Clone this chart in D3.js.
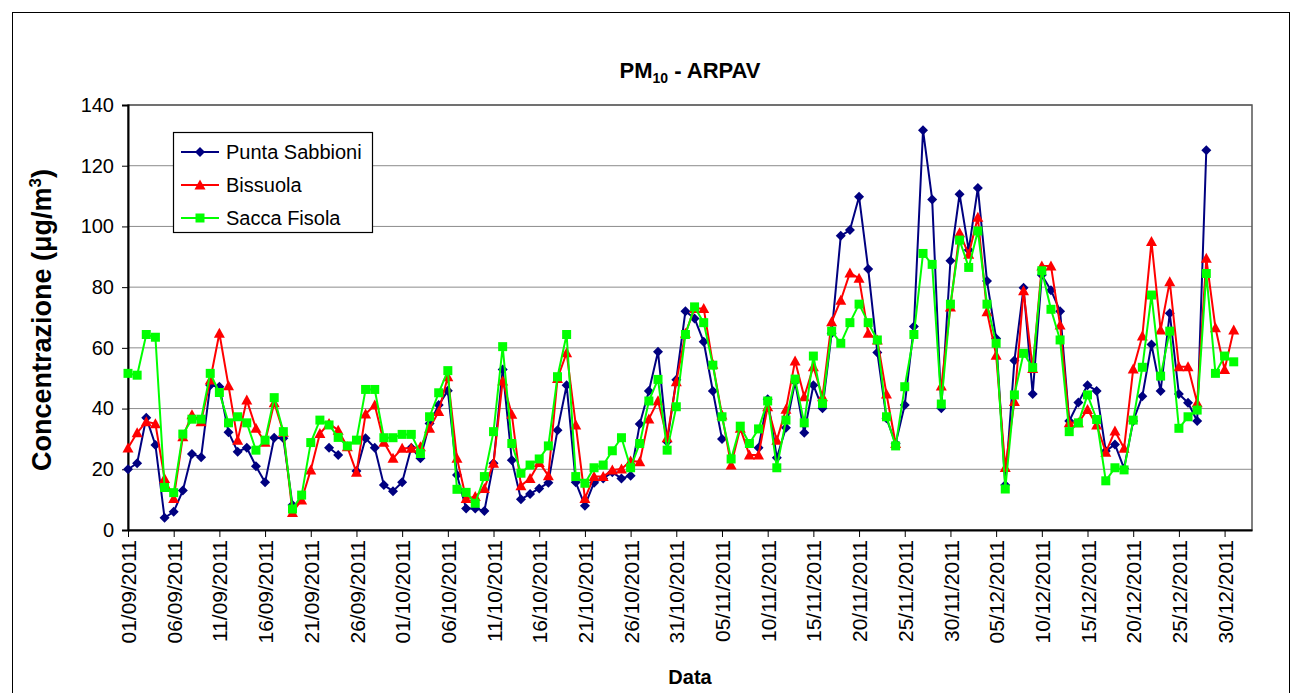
<!DOCTYPE html>
<html lang="it">
<head>
    <meta charset="utf-8">
    <script src="https://cdn.jsdelivr.net/npm/d3@7"></script>
    <style>
        body { margin: 0; background: #fff; }
        svg { font-family: Arial, "Liberation Sans", sans-serif; }
    </style>
</head>
<body>
    <div id="chart"></div>
    <script>
        // daily values, 01/09/2011 -> 31/12/2011 (null = no data)
        var punta = [20, 22, 37, 28, 4, 6, 13, 25, 24, 47.7,
            47.2, 32.2, 25.8, 27.1, 21, 15.7, 30.4, 30.2, 8.2, null,
            null, null, 27.1, 24.7, null, 19.4, 30.2, 27.1, 14.8, 12.8,
            15.7, 27.1, 23.6, 35.1, 41.2, 45.9, 18.1, 7.1, 7.1, 6.3,
            22, 52.9, 23, 10.1, 11.9, 13.7, 15.6, 32.9, 47.7, 15.7,
            8, 15.6, 17, 19, 17, 17.9, 34.9, 45.8, 58.7, 29.1,
            49.5, 72.1, 69.7, 62, 45.8, 30, null, null, null, 27.1,
            43.1, 23.8, 33.7, 48.8, 32, 47.7, 40.1, 64.8, 96.9, 98.8,
            109.8, 86, 58.5, 36.8, 28.5, 41.2, 67, 131.7, 108.9, 40.1,
            88.7, 110.6, 92.2, 112.7, 82, 63.1, 14.8, 55.8, 79.8, 44.8,
            84, 79, 72.1, 35.9, 42, 47.7, 45.8, 26, 28.2, 20.3,
            35.9, 44.1, 61.1, 45.8, 71.4, 44.8, 41.9, 35.9, 125.1, null,
            null, null];

        var bissuola = [27, 32, 35.7, 35, 17, 10.4, 30.7, 38, 35.7, 49.4,
            64.8, 47.5, 29.6, 42.8, 33.5, 28.9, 41.9, 32.2, 5.8, 9.9,
            19.8, 31.8, 35.1, 32.9, 27.4, 19, 38.2, 41.2, 28.9, 23.6,
            26.9, 26.9, 27.4, 33.5, 39, 50.5, 23.6, 10.4, 11, 13.7,
            22, 49.1, 38.1, 14.6, 17, 22.2, 17.9, 49.9, 58.4, 34.6,
            10.4, 17.6, 17.6, 19.8, 20.1, 22.7, 22.5, 36.6, 42.6, 30.4,
            48.8, 64.8, 73, 73, 54.6, 37.9, 21.4, 33.5, 24.7, 24.7,
            40.6, 29.6, 39.8, 55.7, 43.9, 53.8, 43.9, 68.6, 75.7, 84.7,
            82.9, 64.8, 62.6, 44.8, 28.5, null, null, null, null, 47.4,
            73.5, 97.9, 90.8, 103, 71.9, 57.6, 20.6, 42.3, 78.8, 53.2,
            87, 87, 67.5, 35.3, 35.3, 39.7, 34.6, 25.6, 32.6, 26.9,
            53, 63.9, 95, 65.9, 81.8, 53.8, 53.8, 41.9, 89.5, 66.6,
            52.9, 65.9];

        var sacca = [51.6, 51, 64.4, 63.5, 14, 12.3, 31.6, 36.5, 36.5, 51.6,
            45.3, 35.3, 37.3, 35.3, 26.3, 29.6, 43.6, 32.4, 6.9, 11.5,
            28.8, 36.2, 34.6, 30.5, 27.7, 29.6, 46.3, 46.3, 30.4, 30.4,
            31.5, 31.5, 25.2, 37.3, 45.2, 52.5, 13.4, 12.4, 8.8, 17.6,
            32.4, 60.4, 28.5, 18.7, 21.4, 23.4, 27.7, 50.5, 64.4, 17.6,
            15.4, 20.5, 21.4, 26.1, 30.4, 20.5, 28.5, 42.5, 49.6, 26.3,
            40.6, 64.4, 73.5, 68.3, 54.3, 37.3, 23.4, 34.2, 28.5, 33.3,
            42.5, 20.5, 36.2, 49.7, 35.3, 57.3, 41.7, 65.5, 61.5, 68.3,
            74.4, 68.3, 62.6, 37.3, 27.7, 47.2, 64.4, 91.1, 87.5, 41.5,
            74.4, 95.5, 86.5, 98.5, 74.4, 61.5, 13.5, 44.5, 58.2, 53.5,
            85.4, 72.7, 62.6, 32.4, 35.3, 44.5, 36.4, 16.2, 20.5, 19.8,
            36.2, 53.6, 77.4, 50.7, 65.5, 33.5, 37.3, 39.5, 84.5, 51.6,
            57.3, 55.4];

        var seriesNames = ["Punta Sabbioni", "Bissuola", "Sacca Fisola"];
        var seriesColors = ["#000080", "#ff0000", "#00ff00"];
        var seriesMarkers = ["diamond", "triangle", "square"];

        var tickLabels = ["01/09/2011", "06/09/2011", "11/09/2011", "16/09/2011", "21/09/2011",
            "26/09/2011", "01/10/2011", "06/10/2011", "11/10/2011", "16/10/2011", "21/10/2011",
            "26/10/2011", "31/10/2011", "05/11/2011", "10/11/2011", "15/11/2011", "20/11/2011",
            "25/11/2011", "30/11/2011", "05/12/2011", "10/12/2011", "15/12/2011", "20/12/2011",
            "25/12/2011", "30/12/2011"];
        var yTicks = [0, 20, 40, 60, 80, 100, 120, 140];

        var width = 1300, height = 693;
        var margin = { top: 105, right: 48, bottom: 163, left: 128 };

        var parse = d3.timeParse("%d/%m/%Y");
        var start = parse("01/09/2011");
        var dates = punta.map((d, i) => d3.timeDay.offset(start, i));

        var series = seriesNames.map((name, k) => ({
            name: name,
            color: seriesColors[k],
            marker: seriesMarkers[k],
            values: [punta, bissuola, sacca][k]
        }));

        var x = d3.scaleTime()
            .domain([start, parse("02/01/2012")])
            .range([margin.left, width - margin.right]);

        var y = d3.scaleLinear()
            .domain([0, 140])
            .range([height - margin.bottom, margin.top]);

        var svg = d3.select("#chart").append("svg")
            .attr("width", width)
            .attr("height", height);

        // outer chart frame
        svg.append("rect")
            .attr("x", 12.5).attr("y", 12.5)
            .attr("width", 1277).attr("height", 700)
            .attr("fill", "#fff").attr("stroke", "#000").attr("stroke-width", 1);

        // gridlines
        svg.append("g")
            .selectAll("line")
            .data(yTicks.slice(1))
            .enter().append("line")
            .attr("x1", x.range()[0]).attr("x2", x.range()[1])
            .attr("y1", d => y(d)).attr("y2", d => y(d))
            .attr("stroke", "#8c8c8c").attr("stroke-width", 1);

        // plot frame (top / right)
        svg.append("rect")
            .attr("x", x.range()[0]).attr("y", y(140))
            .attr("width", x.range()[1] - x.range()[0])
            .attr("height", y(0) - y(140))
            .attr("fill", "none").attr("stroke", "#555").attr("stroke-width", 1.5);

        // y axis
        var yAxis = svg.append("g")
            .attr("transform", `translate(${margin.left},0)`)
            .call(d3.axisLeft(y).tickValues(yTicks).tickSize(6).tickPadding(8));
        yAxis.select(".domain").attr("stroke", "#000").attr("stroke-width", 2);
        yAxis.selectAll("text").attr("font-size", 20).attr("font-family", "Arial, 'Liberation Sans', sans-serif").attr("fill", "#000");

        // x axis, tick every 5 days
        var tickDates = tickLabels.map(parse);
        var xAxis = svg.append("g")
            .attr("transform", `translate(0,${y(0)})`)
            .call(d3.axisBottom(x).tickValues(tickDates).tickSize(7).tickSizeOuter(0).tickFormat((d, i) => tickLabels[i]));
        xAxis.select(".domain").attr("stroke", "#000").attr("stroke-width", 2);
        xAxis.selectAll("text")
            .attr("font-size", 21)
            .attr("font-family", "Arial, 'Liberation Sans', sans-serif")
            .attr("fill", "#000")
            .attr("text-anchor", "end")
            .attr("transform", "rotate(-90)")
            .attr("x", -10)
            .attr("y", 0)
            .attr("dy", "0.36em");

        // markers
        var markerPath = {
            diamond: "M0,-5L5,0L0,5L-5,0Z",
            triangle: "M0,-5.5L5.5,4.5L-5.5,4.5Z",
            square: "M-4.5,-4.5H4.5V4.5H-4.5Z"
        };

        var line = d3.line()
            .defined(d => d != null)
            .x((d, i) => x(dates[i]))
            .y(d => y(d));

        var g = svg.append("g");
        series.forEach(s => {
            g.append("path")
                .attr("fill", "none")
                .attr("stroke", s.color)
                .attr("stroke-width", 2)
                .attr("stroke-linejoin", "round")
                .attr("d", line(s.values));
            g.append("g")
                .selectAll("path")
                .data(s.values.map((v, i) => ({ v: v, i: i })).filter(d => d.v != null))
                .enter().append("path")
                .attr("transform", d => `translate(${x(dates[d.i])},${y(d.v)})`)
                .attr("d", markerPath[s.marker])
                .attr("fill", s.color);
        });

        // legend
        var legend = svg.append("g");
        legend.append("rect")
            .attr("x", 173.5).attr("y", 132.5)
            .attr("width", 199).attr("height", 100)
            .attr("fill", "#fff").attr("stroke", "#000").attr("stroke-width", 1.2);
        series.forEach((s, k) => {
            var ly = 152 + k * 33;
            legend.append("line")
                .attr("x1", 181).attr("x2", 219)
                .attr("y1", ly).attr("y2", ly)
                .attr("stroke", s.color).attr("stroke-width", 2);
            legend.append("path")
                .attr("transform", `translate(200,${ly})`)
                .attr("d", markerPath[s.marker])
                .attr("fill", s.color);
            legend.append("text")
                .attr("x", 226).attr("y", ly + 7)
                .attr("font-size", 20)
                .text(s.name);
        });

        // title
        var title = svg.append("text")
            .attr("x", 690).attr("y", 78)
            .attr("text-anchor", "middle")
            .attr("font-size", 22).attr("font-weight", "bold");
        title.append("tspan").text("PM");
        title.append("tspan").attr("font-size", 14).attr("dy", 5).text("10");
        title.append("tspan").attr("dy", -5).text(" - ARPAV");

        // axis titles
        svg.append("text")
            .attr("x", 690).attr("y", 684)
            .attr("text-anchor", "middle")
            .attr("font-size", 20).attr("font-weight", "bold")
            .text("Data");

        var ytitle = svg.append("text")
            .attr("transform", "translate(51,320) rotate(-90)")
            .attr("text-anchor", "middle")
            .attr("font-size", 27).attr("font-weight", "bold");
        ytitle.append("tspan").text("Concentrazione (\u03bcg/m");
        ytitle.append("tspan").attr("font-size", 17).attr("dy", -10).text("3");
        ytitle.append("tspan").attr("dy", 10).text(")");
    </script>
</body>
</html>
